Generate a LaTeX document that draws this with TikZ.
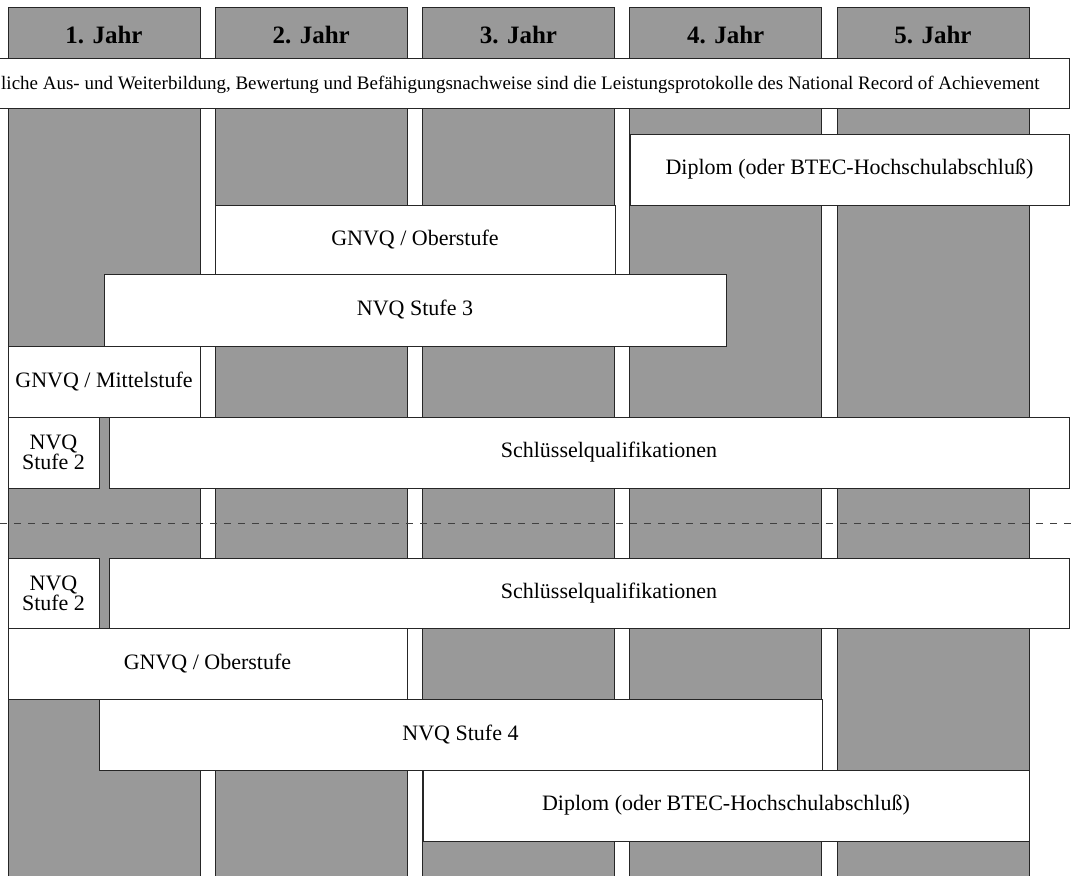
\documentclass[tikz,border=0pt]{standalone}
\usepackage{fontspec}
\setmainfont{Liberation Serif}

\tikzset{
  jahr/.style={draw=black!85, fill=black!40, line width=0.8pt, inner sep=0pt, outer sep=0pt,
    anchor=north west, minimum width=192pt, minimum height=900pt},
  kopf/.style={font=\fontsize{25}{28}\selectfont\bfseries, inner sep=0pt},
  feld/.style={draw=black!85, fill=white, line width=0.8pt, inner sep=0pt, outer sep=0pt,
    anchor=north west, align=center, font=\fontsize{22}{20}\selectfont},
  feldtext/.style={inner sep=0pt, font=\fontsize{22}{20}\selectfont},
  trenn/.style={draw=black!75, line width=0.8pt, dash pattern=on 7pt off 7pt}
}

\begin{document}
\begin{tikzpicture}[x=1pt, y=-1pt]
  \useasboundingbox (0,0) rectangle (1072,876);
  \clip (0,0) rectangle (1072,876);

  % Draw the five year columns with their headings
  \foreach \i in {1,...,5}{
    \node[jahr] (jahr\i) at ({8+207.25*(\i-1)},7) {};
    \node[kopf] (kopf\i) at ({104+207.25*(\i-1)},35) {\i. Jahr};
  }

  % Banner across all years
  \node[feld, minimum width=1077pt, minimum height=50pt] (nra) at (-8,58) {};
  \node[anchor=base west, inner sep=0pt, font=\fontsize{19}{21}\selectfont] (nratext) at (1,89)
    {liche Aus- und Weiterbildung, Bewertung und Befähigungsnachweise sind die Leistungsprotokolle des National Record of Achievement};

  % Upper path
  \node[feld, minimum width=439pt, minimum height=71pt] (diplomoben) at (630,134) {Diplom (oder BTEC-Hochschulabschluß)};
  \node[feld, minimum width=400pt, minimum height=69pt] (gnvqoben) at (215,205) {GNVQ / Oberstufe};
  \node[feld, minimum width=622pt, minimum height=72pt] (nvqdrei) at (104,274) {NVQ Stufe 3};
  \node[feld, minimum width=192pt, minimum height=71pt] (gnvqmittel) at (8,346) {GNVQ / Mittelstufe};
  \node[feld, minimum width=91pt, minimum height=71pt] (nvqzweioben) at (8,417) {NVQ\\Stufe 2};
  \node[feld, minimum width=960pt, minimum height=71pt] (schloben) at (109,417) {};
  \node[feldtext] (schlobentext) at (609,452.5) {Schlüsselqualifikationen};

  % Dashed separator
  \coordinate (trennlinks) at (0,523);
  \coordinate (trennrechts) at (1072,523);
  \draw[trenn] (trennlinks) -- (trennrechts);

  % Lower path
  \node[feld, minimum width=91pt, minimum height=70pt] (nvqzweiunten) at (8,558) {NVQ\\Stufe 2};
  \node[feld, minimum width=960pt, minimum height=70pt] (schlunten) at (109,558) {};
  \node[feldtext] (schluntentext) at (609,593) {Schlüsselqualifikationen};
  \node[feld, minimum width=399pt, minimum height=71pt] (gnvqunten) at (8,628) {GNVQ / Oberstufe};
  \node[feld, minimum width=723pt, minimum height=71pt] (nvqvier) at (99,699) {NVQ Stufe 4};
  \node[feld, minimum width=606pt, minimum height=71pt] (diplomunten) at (423,770) {Diplom (oder BTEC-Hochschulabschluß)};
\end{tikzpicture}
\end{document}
